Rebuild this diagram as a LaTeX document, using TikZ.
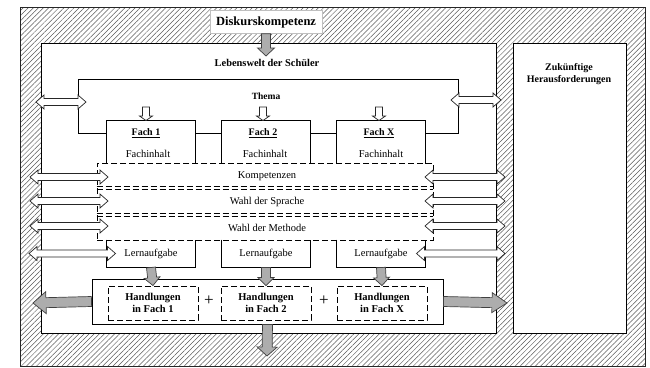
\documentclass[tikz,border=0pt]{standalone}
\usepackage{fontspec}
\setmainfont{Liberation Serif}
\usepackage{tikz}
\usetikzlibrary{calc,patterns.meta}

% point of a block arrow, in the arrow's own frame
\newcommand{\blockpt}[2]{([shift={(\p1)},rotate=\n1]#1,#2)}

\tikzset{
  aw/.store in=\arrw, ah/.store in=\arrh, al/.store in=\arrl,
  aw=4pt, ah=8pt, al=8pt,
  single block/.style={to path={let \p1=(\tikztostart), \p2=(\tikztotarget),
      \n1={atan2(\y2-\y1,\x2-\x1)}, \n2={veclen(\x2-\x1,\y2-\y1)} in
      \blockpt{0pt}{\arrw} -- \blockpt{\n2-\arrl}{\arrw} -- \blockpt{\n2-\arrl}{\arrh}
      -- \blockpt{\n2}{0pt} -- \blockpt{\n2-\arrl}{-\arrh} -- \blockpt{\n2-\arrl}{-\arrw}
      -- \blockpt{0pt}{-\arrw} -- cycle}},
  double block/.style={to path={let \p1=(\tikztostart), \p2=(\tikztotarget),
      \n1={atan2(\y2-\y1,\x2-\x1)}, \n2={veclen(\x2-\x1,\y2-\y1)} in
      -- \blockpt{\arrl}{\arrh} -- \blockpt{\arrl}{\arrw} -- \blockpt{\n2-\arrl}{\arrw}
      -- \blockpt{\n2-\arrl}{\arrh} -- \blockpt{\n2}{0pt} -- \blockpt{\n2-\arrl}{-\arrh}
      -- \blockpt{\n2-\arrl}{-\arrw} -- \blockpt{\arrl}{-\arrw} -- \blockpt{\arrl}{-\arrh}
      -- cycle}},
  graybar/.style={draw=black!75, fill=black!32, line width=0.7pt, single block},
  whitebar/.style={draw=black!85, fill=white, line width=0.7pt, single block,
      aw=3.5pt, ah=6.5pt, al=4.5pt},
  whitedbl/.style={draw=black!85, fill=white, line width=0.7pt, double block,
      aw=3.5pt, ah=7pt, al=8pt},
  hatch/.style={draw=black!85, line width=1pt,
      pattern={Lines[angle=45,distance=3.6pt,line width=0.5pt]}, pattern color=black!65},
  dashline/.style={line width=0.9pt, dash pattern=on 6pt off 3pt},
  plainbox/.style={draw=none, fill=white, inner sep=0pt},
  band/.style={font=\fontsize{10.5}{12}\selectfont},
  headbold/.style={font=\bfseries\fontsize{10}{12.5}\selectfont, align=center},
}

\begin{document}
\begin{tikzpicture}[x=1pt,y=-1pt,line width=1pt]
\useasboundingbox (0,0) rectangle (650,367);

    \draw[hatch] (20,7) rectangle (645,366);
          % the hatched outer frame
    \draw[fill=white] (41,43) rectangle (496,333);
    \draw[fill=white] (513,43) rectangle (626,333);
    \node[headbold] (future) at (569,74) {Zuk\"unftige\\Herausforderungen};

    \node[plainbox, draw=black!25, line width=0.5pt, minimum width=112, minimum height=23,
          font=\bfseries\fontsize{12.5}{14}\selectfont] (disk) at (266,22) {Diskurskompetenz};
    \node[font=\bfseries\fontsize{10.4}{12}\selectfont] (life) at (267,63) {Lebenswelt der Sch\"uler};
    \coordinate (lifetop) at (266,56);
    \draw[graybar, aw=4.5pt, ah=8.5pt, al=8pt] (disk.south) to (lifetop);

    \draw (78,79) rectangle (458,133);
          % Thema frame, its bottom is hidden by the boxes
    \node[font=\bfseries\fontsize{9.5}{11}\selectfont] (thema) at (266,96) {Thema};

    \foreach \x/\t/\k/\l in {151/146/1/1, 266/263/2/2, 381/379/3/X}{% one column per Fach
      \node[plainbox, minimum width=88, minimum height=42] (box\k) at (\x,142) {};
      \draw (box\k.south west) -- (box\k.north west) -- (box\k.north east) -- (box\k.south east);
      \node[font=\bfseries\fontsize{10}{12}\selectfont] (fach\k) at (\t,133) {\underline{Fach \l}};
      \node[band] (inhalt\k) at (\t+2,153.5) {Fachinhalt};
      \coordinate (drop\k) at (\t,107);
      \draw[whitebar] (drop\k) to (drop\k |- box\k.north);

      \node[plainbox, minimum width=88, minimum height=27, band] (lern\k) at (\x,253.5) {Lernaufgabe};
      \draw (lern\k.north west) -- (lern\k.south west) -- (lern\k.south east) -- (lern\k.north east);
    }

    \node[draw, dashline, minimum width=336, minimum height=77, inner sep=0pt] (kern) at (265,201.5) {};
    \foreach \y in {186.5,189.5,213.5,216.5}{
      \draw[dashline] (kern.west |- 0,\y) -- (kern.east |- 0,\y);
    }
    \node[band] (komp) at (267,176) {Kompetenzen};
    \node[band] (sprache) at (267,202) {Wahl der Sprache};
    \node[band] (methode) at (267,228) {Wahl der Methode};

    % white double arrows to the outside
    \coordinate (tl1) at (36,102); \coordinate (tl2) at (86,102);
    \coordinate (tr1) at (451,100); \coordinate (tr2) at (501,100);
    \draw[whitedbl] (tl1) to (tl2);
    \draw[whitedbl] (tr1) to (tr2);
    \foreach \k/\y in {1/177, 2/201, 3/226}{
      \coordinate (bl\k) at (30,\y);  \coordinate (bi\k) at (108,\y);
      \coordinate (bo\k) at (425,\y); \coordinate (br\k) at (505,\y);
      \draw[whitedbl] (bl\k) to (bi\k);
      \draw[whitedbl] (bo\k) to (br\k);
    }
    \coordinate (ll) at (29,253.5);
    \coordinate (lr) at (505,253.5);
    \draw[whitedbl] (ll) to ([xshift=9pt]lern1.west);
    \draw[whitedbl] ([xshift=-9pt]lern3.east) to (lr);

    % Handlungen
    \node[draw, fill=white, minimum width=351, minimum height=45, inner sep=0pt] (hand) at (267.5,301.5) {};
    \foreach \x/\k/\l in {153/1/1, 266/2/2, 382/3/X}{
      \node[draw, dashline, minimum width=90, minimum height=34, inner sep=0pt,
            font=\bfseries\fontsize{10.5}{12.5}\selectfont, align=center] (hf\k) at (\x,303) {Handlungen\\in Fach \l};
      \draw[graybar, aw=4.5pt, ah=8pt, al=8pt] (lern\k.south) to (hf\k.north);
    }
    \node[font=\fontsize{17}{18}\selectfont] (plus1) at (209,301) {+};
    \node[font=\fontsize{17}{18}\selectfont] (plus2) at (324,301) {+};

    \coordinate (outl) at (33,303);
    \coordinate (outr) at (507,303);
    \coordinate (outd) at (267,356);
    \draw[graybar, aw=5pt, ah=11pt, al=13pt] (hand.west) to (outl);
    \draw[graybar, aw=5pt, ah=10pt, al=15pt] (hand.east) to (outr);
    \draw[graybar, aw=5pt, ah=10pt, al=9pt] (hand.south) to (outd);

\end{tikzpicture}
\end{document}
